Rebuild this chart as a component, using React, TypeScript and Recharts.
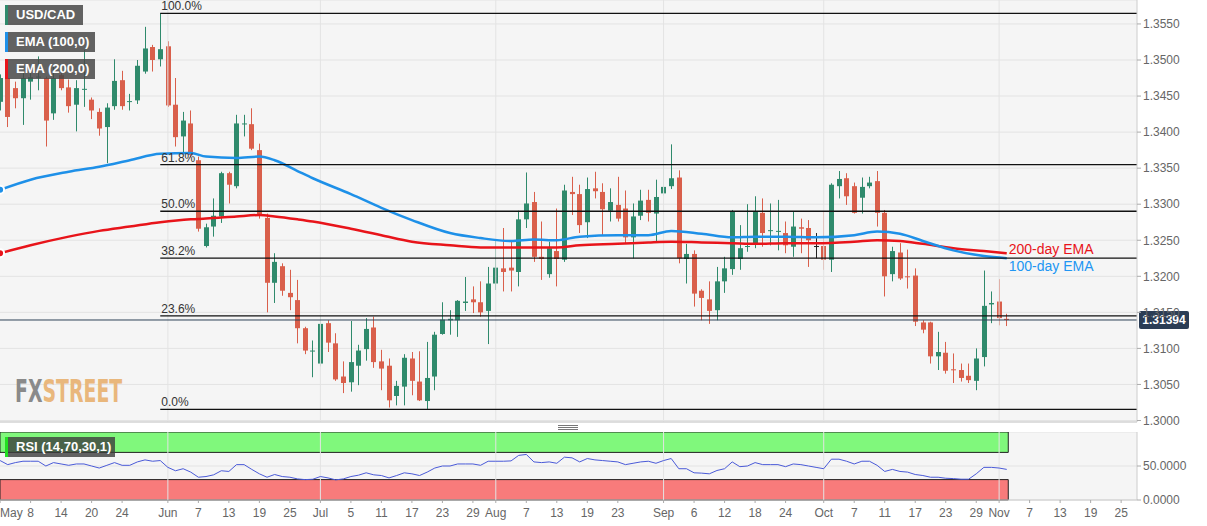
import React from "react";
import {
  ComposedChart,
  Bar,
  Line,
  XAxis,
  YAxis,
  CartesianGrid,
  ReferenceLine,
  ReferenceArea,
  ReferenceDot,
} from "recharts";

// daily USD/CAD candles, bar index 1 = May 2
const firstIndex = 1;

const candleOpen = [
  1.3442, 1.3475, 1.3461, 1.3447, 1.347, 1.3476, 1.3475, 1.3426, 1.3479, 1.3462,
  1.3438, 1.3459, 1.3445, 1.3428, 1.3407, 1.3436, 1.3472, 1.3442, 1.3444, 1.3484,
  1.3518, 1.3501, 1.3519, 1.3438, 1.3394, 1.3412, 1.3361, 1.3242, 1.3269, 1.3283,
  1.3343, 1.3325, 1.3411, 1.3411, 1.3375, 1.3281, 1.3191, 1.3214, 1.3177, 1.3167,
  1.3128, 1.3096, 1.3079, 1.3135, 1.3107, 1.3061, 1.3053, 1.3076, 1.3099, 1.3129,
  1.3082, 1.3076, 1.3034, 1.3047, 1.3086, 1.3054, 1.3027, 1.3061, 1.312, 1.3139,
  1.3139, 1.3163, 1.3168, 1.3164, 1.3152, 1.319, 1.3211, 1.3212, 1.3206, 1.3279,
  1.3303, 1.3227, 1.3203, 1.3235, 1.3223, 1.3317, 1.3314, 1.3275, 1.3322, 1.3317,
  1.3291, 1.3299, 1.3294, 1.3254, 1.3284, 1.3306, 1.3287, 1.3315, 1.3325, 1.3337,
  1.3224, 1.3231, 1.318, 1.3168, 1.3153, 1.3193, 1.321, 1.3224, 1.3241, 1.3245,
  1.3288, 1.3263, 1.3262, 1.326, 1.3241, 1.3268, 1.3267, 1.3242, 1.3242, 1.3223,
  1.3325, 1.3336, 1.3325, 1.3309, 1.3325, 1.3332, 1.3288, 1.3203, 1.3233, 1.32,
  1.3201, 1.3136, 1.3136, 1.3089, 1.3094, 1.3071, 1.307, 1.3062, 1.3055, 1.3088,
  1.3161, 1.3165, 1.3141,
];

const candleHigh = [
  1.348, 1.3478, 1.347, 1.3484, 1.3484, 1.3505, 1.3477, 1.3491, 1.3487, 1.3473,
  1.3472, 1.3514, 1.3448, 1.3433, 1.344, 1.3501, 1.3485, 1.3453, 1.35, 1.3546,
  1.3521, 1.3565, 1.3526, 1.3475, 1.3428, 1.343, 1.3366, 1.3273, 1.3308, 1.3345,
  1.3345, 1.3424, 1.3424, 1.3433, 1.3384, 1.3287, 1.3232, 1.3218, 1.3209, 1.3195,
  1.313, 1.3111, 1.3145, 1.3139, 1.3121, 1.3082, 1.3138, 1.3105, 1.3142, 1.3144,
  1.3098, 1.3086, 1.3055, 1.3092, 1.3095, 1.3096, 1.3109, 1.3123, 1.3164, 1.3153,
  1.3167, 1.3199, 1.3186, 1.3193, 1.3213, 1.3249, 1.3267, 1.3249, 1.3291, 1.3344,
  1.3317, 1.3276, 1.3248, 1.3294, 1.3327, 1.3338, 1.3327, 1.3337, 1.3345, 1.3329,
  1.3322, 1.3338, 1.3319, 1.3301, 1.332, 1.332, 1.3334, 1.3361, 1.3383, 1.3347,
  1.3245, 1.3236, 1.3182, 1.3193, 1.3213, 1.3227, 1.3292, 1.3271, 1.33, 1.3311,
  1.3308, 1.3301, 1.3306, 1.3276, 1.329, 1.328, 1.3278, 1.326, 1.329, 1.3329,
  1.3346, 1.3343, 1.333, 1.3337, 1.3338, 1.3346, 1.3292, 1.3241, 1.3246, 1.3237,
  1.3211, 1.3139, 1.3137, 1.3123, 1.3109, 1.3093, 1.3079, 1.3079, 1.31, 1.3208,
  1.3179, 1.3196, 1.3148,
];

const candleLow = [
  1.343, 1.3407, 1.3433, 1.341, 1.3445, 1.3458, 1.338, 1.3417, 1.3458, 1.3427,
  1.3401, 1.3435, 1.3418, 1.3395, 1.3357, 1.3431, 1.3431, 1.343, 1.3439, 1.3481,
  1.3484, 1.3491, 1.3435, 1.338, 1.3371, 1.3365, 1.3262, 1.324, 1.3255, 1.3274,
  1.3301, 1.3322, 1.3394, 1.3375, 1.328, 1.315, 1.3163, 1.3173, 1.3153, 1.3107,
  1.3092, 1.306, 1.3075, 1.3095, 1.3055, 1.3038, 1.304, 1.3049, 1.3083, 1.3073,
  1.3042, 1.3018, 1.3021, 1.3021, 1.3035, 1.3027, 1.3016, 1.3042, 1.3119, 1.3119,
  1.3116, 1.3152, 1.3149, 1.3144, 1.3106, 1.3181, 1.3179, 1.3179, 1.3186, 1.3267,
  1.322, 1.3195, 1.3198, 1.3186, 1.322, 1.3285, 1.326, 1.3253, 1.3308, 1.3256,
  1.3276, 1.3276, 1.3246, 1.3225, 1.3278, 1.3276, 1.3248, 1.3312, 1.3321, 1.3218,
  1.319, 1.3158, 1.3139, 1.3134, 1.3139, 1.3177, 1.3202, 1.3209, 1.3234, 1.3239,
  1.3241, 1.3243, 1.3236, 1.3232, 1.3227, 1.3232, 1.3213, 1.3225, 1.3209, 1.3206,
  1.3308, 1.3299, 1.3287, 1.3287, 1.3322, 1.3269, 1.3172, 1.3193, 1.3195, 1.3183,
  1.3131, 1.3121, 1.3079, 1.307, 1.3065, 1.3052, 1.3054, 1.3052, 1.3042, 1.3075,
  1.3135, 1.3132, 1.3131,
];

const candleClose = [
  1.3475, 1.3421, 1.3447, 1.3475, 1.3476, 1.3477, 1.3416, 1.3475, 1.3461, 1.3436,
  1.3461, 1.346, 1.343, 1.3405, 1.3434, 1.3471, 1.3436, 1.3443, 1.3492, 1.3516,
  1.35, 1.3515, 1.3437, 1.3393, 1.3416, 1.3368, 1.3266, 1.3268, 1.3284, 1.3343,
  1.3327, 1.3412, 1.3412, 1.3377, 1.3284, 1.3191, 1.322, 1.318, 1.3171, 1.3128,
  1.3097, 1.3097, 1.3134, 1.3108, 1.3057, 1.3052, 1.3081, 1.3097, 1.3127, 1.3081,
  1.3072, 1.3028, 1.3048, 1.3087, 1.3055, 1.3028, 1.3059, 1.3119, 1.314, 1.3141,
  1.3166, 1.3165, 1.3164, 1.315, 1.319, 1.3212, 1.3206, 1.3208, 1.3279, 1.3301,
  1.3227, 1.3224, 1.3239, 1.3224, 1.3319, 1.3314, 1.3271, 1.3321, 1.3318, 1.3293,
  1.3303, 1.328, 1.3254, 1.3283, 1.3305, 1.3288, 1.331, 1.3324, 1.3336, 1.3225,
  1.3231, 1.3176, 1.317, 1.3152, 1.3193, 1.3211, 1.329, 1.3239, 1.3242, 1.329,
  1.326, 1.3264, 1.3263, 1.3243, 1.3269, 1.3266, 1.325, 1.3242, 1.3223, 1.3327,
  1.3335, 1.3311, 1.3288, 1.3324, 1.333, 1.3288, 1.32, 1.3235, 1.3197, 1.3199,
  1.3137, 1.3126, 1.3089, 1.3095, 1.3069, 1.307, 1.3059, 1.3056, 1.3086, 1.3159,
  1.3163, 1.3142, 1.31394,
];

// moving averages at a few bars
const emaIndex = [
  1, 5, 10, 14, 18, 22, 26, 28, 32, 35, 37, 40, 42, 47, 51, 55, 60, 64, 68,
  71, 74, 77, 82, 86, 89, 93, 97, 100, 104, 108, 113, 116, 119, 122, 126, 130, 133,
];
const ema100 = [
  1.332, 1.3334, 1.3345, 1.3352, 1.3361, 1.337, 1.3371, 1.3366, 1.3364, 1.3366,
  1.3361, 1.3346, 1.3336, 1.3314, 1.3295, 1.3278, 1.326, 1.3253, 1.3249, 1.3251,
  1.325, 1.3255, 1.3257, 1.3257, 1.3263, 1.3259, 1.3254, 1.3255, 1.3255, 1.3254,
  1.3257, 1.3262, 1.3259, 1.3249, 1.3236, 1.3228, 1.3225,
];
const ema200 = [
  1.3232, 1.3243, 1.3255, 1.3263, 1.3269, 1.3275, 1.3279, 1.328, 1.3283, 1.3285,
  1.3283, 1.3279, 1.3276, 1.3266, 1.3257, 1.3248, 1.3243, 1.324, 1.324, 1.324,
  1.324, 1.3243, 1.3245, 1.3247, 1.3248, 1.3247, 1.3246, 1.3245, 1.3246, 1.3246,
  1.3248, 1.325, 1.3249, 1.3245, 1.3239, 1.3235, 1.3232,
];

const rsiValues = [
  58, 52, 55, 57, 57, 57, 50, 55, 53, 51, 53, 53, 50, 47, 51, 55, 51, 51, 56, 59,
  57, 58, 48, 43, 46, 41, 33.5, 34.5, 37, 43, 42, 52, 52, 45, 38.5, 33.5, 37.5, 34.5, 33.5, 31,
  30, 30.5, 34.5, 32.5, 29.6, 31, 34.5, 36.5, 40, 37, 36, 32.5, 36, 40, 38.5, 36, 41, 47, 50, 50,
  53, 53, 53, 51, 57, 57, 57, 57.5, 65.6, 67, 56, 55, 56, 54, 63, 62, 56, 61, 59, 58,
  57, 56, 52, 54, 56, 57, 54, 58, 61, 46, 46, 40, 39.5, 38.5, 43.4, 46, 56, 49, 50, 55,
  52, 52, 52, 49, 53, 52, 50, 48, 46, 60, 60, 57, 53, 57, 57, 51, 42, 45, 42, 41,
  37.5, 36, 33.5, 33.5, 32, 31.5, 30.6, 30.6, 38.5, 48, 48, 47, 45,
];

const fibStartIndex = 22;
const fibLevels = [1.35648, 1.3355, 1.32902, 1.32253, 1.31451, 1.30155];
const fibLabels = ["100.0%", "61.8%", "50.0%", "38.2%", "23.6%", "0.0%"];
const lastPrice = 1.31394;

const priceTicks = [
  1.3, 1.305, 1.31, 1.315, 1.32, 1.325, 1.33, 1.335, 1.34, 1.345, 1.35, 1.355,
];
const monthIndex = [23, 43, 66, 88, 109, 132];
const tickIndex = [
  1, 5, 9, 13, 17, 23, 27, 31, 35, 39, 43, 47, 51, 55, 59, 63, 66, 70, 74, 78,
  82, 88, 92, 96, 100, 104, 109, 113, 117, 121, 125, 129, 132, 136, 140, 144, 148,
];
const tickLabels = [
  "May", "8", "14", "20", "24", "Jun", "7", "13", "19", "25", "Jul", "5", "11",
  "17", "23", "29", "Aug", "7", "13", "19", "23", "Sep", "6", "12", "18", "24",
  "Oct", "7", "11", "17", "23", "29", "Nov", "7", "13", "19", "25",
];

// layout
const W = 1207;
const AXIS_W = 70;
const X_DOMAIN = [0.987, 150.08];
const PRICE_DOMAIN = [1.299792, 1.358322];
const RSI_BAND_END = 133.2;
const FONT = "'Liberation Sans', Arial, Helvetica, sans-serif";
const GREEN = "#2f8a6c";
const RED = "#d95f4b";
const BG = "#f5f5f5";
const GRID = "#e3e3e3";

type Row = {
  i: number;
  open: number;
  high: number;
  low: number;
  close: number;
  rsi: number;
  ema100?: number;
  ema200?: number;
};

const rows: Row[] = candleOpen.map((o, k) => ({
  i: firstIndex + k,
  open: o,
  high: candleHigh[k],
  low: candleLow[k],
  close: candleClose[k],
  rsi: rsiValues[k],
}));
emaIndex.forEach((idx, k) => {
  const r = rows[idx - firstIndex];
  r.ema100 = ema100[k];
  r.ema200 = ema200[k];
});

function Candle(props: any) {
  const { x, y, width, height, payload } = props;
  if (!payload || x == null || y == null) return null;
  const { open, close, high, low } = payload as Row;
  const top = Math.min(y, y + height);
  const h = Math.abs(height);
  const k = high > low ? h / (high - low) : 0;
  const yOpen = top + (high - open) * k;
  const yClose = top + (high - close) * k;
  const color = close > open ? GREEN : close < open ? RED : "#222";
  const cx = Math.round(x + width / 2) + 0.5;
  const bodyTop = Math.min(yOpen, yClose);
  const bodyH = Math.max(1, Math.abs(yOpen - yClose));
  return (
    <g>
      <line x1={cx} x2={cx} y1={top} y2={top + h} stroke={color} strokeWidth={1} />
      <rect x={cx - 2.5} y={bodyTop} width={5} height={bodyH} fill={color} />
    </g>
  );
}

function FibText(props: any) {
  const vb = props.viewBox || {};
  return (
    <text x={vb.x + 1} y={vb.y - 3} fontSize={12} fill="#333" fontFamily={FONT}>
      {props.text}
    </text>
  );
}

function PriceTag(props: any) {
  const vb = props.viewBox || {};
  const left = vb.x + vb.width + 2;
  return (
    <g>
      <rect x={left} y={vb.y - 9} width={50} height={18} rx={2} fill="#2b3d55" />
      <text
        x={left + 25}
        y={vb.y + 4.5}
        textAnchor="middle"
        fontSize={12}
        fontWeight="bold"
        fill="#fff"
        fontFamily={FONT}
      >
        {props.text}
      </text>
    </g>
  );
}

function EmaText(props: any) {
  const vb = props.viewBox || {};
  return (
    <text
      x={vb.x + 2}
      y={vb.y + props.dy}
      fontSize={14}
      fill={props.color}
      fontFamily={FONT}
    >
      {props.text}
    </text>
  );
}

function DateTick(props: any) {
  const { x, y, payload, index } = props;
  const k = tickIndex.indexOf(payload.value);
  return (
    <text
      x={x}
      y={y + 12}
      textAnchor={index === 0 ? "start" : "middle"}
      fontSize={12}
      fill="#666"
      fontFamily={FONT}
    >
      {tickLabels[k]}
    </text>
  );
}

function Badge({ top, width, stripe, label }: any) {
  return (
    <div
      style={{
        position: "absolute",
        left: 5,
        top,
        width,
        height: 20,
        background: "rgba(72,72,72,0.85)",
        borderLeft: `3px solid ${stripe}`,
        boxSizing: "border-box",
        color: "#fff",
        fontFamily: FONT,
        fontWeight: "bold",
        fontSize: 13,
        lineHeight: "20px",
        paddingLeft: 8,
        whiteSpace: "nowrap",
      }}
    >
      {label}
    </div>
  );
}

const last = rows[rows.length - 1];
const lastEma100 = ema100[ema100.length - 1];
const lastEma200 = ema200[ema200.length - 1];

export default function App() {
  return (
    <div
      style={{
        position: "absolute",
        left: 0,
        top: 0,
        width: W,
        height: 526,
        background: "#fff",
        overflow: "hidden",
        fontFamily: FONT,
      }}
    >
      <div style={{ position: "absolute", left: 0, top: 0 }}>
        <ComposedChart
          width={W}
          height={431}
          data={rows}
          margin={{ top: 0, right: 0, left: 0, bottom: 8 }}
        >
          <CartesianGrid vertical={false} fill={BG} stroke={GRID} />
          <XAxis
            type="number"
            dataKey="i"
            domain={X_DOMAIN}
            allowDataOverflow
            ticks={monthIndex}
            tick={false}
            tickLine={false}
            height={1}
            axisLine={{ stroke: "#ccc" }}
          />
          <YAxis
            orientation="right"
            width={AXIS_W}
            domain={PRICE_DOMAIN}
            allowDataOverflow
            ticks={priceTicks}
            interval={0}
            tickFormatter={(v: number) => v.toFixed(4)}
            tick={{ fontSize: 12, fill: "#666", fontFamily: FONT }}
            tickSize={4}
            tickLine={{ stroke: "#aaa" }}
            axisLine={{ stroke: "#ccc" }}
          />
          {monthIndex.map((m) => (
            <ReferenceLine key={"m" + m} x={m} stroke={GRID} strokeWidth={1} />
          ))}
          <Line
            type="monotone"
            dataKey="ema200"
            stroke="#e8141a"
            strokeWidth={2.5}
            dot={false}
            connectNulls
            isAnimationActive={false}
          />
          <Line
            type="monotone"
            dataKey="ema100"
            stroke="#1e90e8"
            strokeWidth={2.5}
            dot={false}
            connectNulls
            isAnimationActive={false}
          />
          <Bar
            dataKey={(d: Row) => [d.low, d.high]}
            barSize={5}
            shape={<Candle />}
            isAnimationActive={false}
          />
          {fibLevels.map((lv, k) => (
            <ReferenceLine
              key={"f" + k}
              segment={[
                { x: fibStartIndex, y: lv },
                { x: X_DOMAIN[1], y: lv },
              ]}
              stroke="#111"
              strokeWidth={1.3}
              label={<FibText text={fibLabels[k]} />}
            />
          ))}
          <ReferenceLine
            y={lastPrice}
            stroke="#2f4258"
            strokeWidth={1}
            label={<PriceTag text={lastPrice.toFixed(5)} />}
          />
          <ReferenceDot
            x={last.i}
            y={lastEma200}
            r={0}
            fill="none"
            stroke="none"
            label={<EmaText text="200-day EMA" color="#e8141a" dy={1} />}
          />
          <ReferenceDot
            x={last.i}
            y={lastEma100}
            r={0}
            fill="none"
            stroke="none"
            label={<EmaText text="100-day EMA" color="#2196f3" dy={13} />}
          />
        </ComposedChart>
      </div>

      <Badge top={5} width={78} stripe="#2f8a6c" label="USD/CAD" />
      <Badge top={32} width={90} stripe="#1e90e8" label="EMA (100,0)" />
      <Badge top={59} width={90} stripe="#e8141a" label="EMA (200,0)" />

      <svg
        style={{ position: "absolute", left: 14, top: 370 }}
        width={130}
        height={42}
      >
        <text
          x={1}
          y={21.5}
          fontSize={21}
          fontWeight="bold"
          fontFamily="'DejaVu Sans Condensed', 'Liberation Sans', sans-serif"
          transform="scale(1,1.5)"
        >
          <tspan fill="#8a8a8a">FX</tspan>
          <tspan fill="#e9b77c">STREET</tspan>
        </text>
      </svg>

      {[0, 2, 4].map((d) => (
        <div
          key={d}
          style={{
            position: "absolute",
            left: 558,
            top: 425 + d,
            width: 20,
            height: 1,
            background: "#777",
          }}
        />
      ))}

      <div style={{ position: "absolute", left: 0, top: 432 }}>
        <ComposedChart
          width={W}
          height={94}
          data={rows}
          margin={{ top: 0, right: 0, left: 0, bottom: 0 }}
        >
          <CartesianGrid vertical={false} fill={BG} stroke={GRID} />
          <XAxis
            type="number"
            dataKey="i"
            domain={X_DOMAIN}
            allowDataOverflow
            ticks={tickIndex}
            interval={0}
            tick={<DateTick />}
            tickSize={3}
            height={26}
            tickLine={{ stroke: "#aaa" }}
            axisLine={{ stroke: "#ccc" }}
          />
          <YAxis
            orientation="right"
            width={AXIS_W}
            domain={[0, 100]}
            ticks={[0, 50]}
            interval={0}
            tickFormatter={(v: number) => v.toFixed(4)}
            tick={{ fontSize: 12, fill: "#666", fontFamily: FONT }}
            tickSize={4}
            tickLine={{ stroke: "#aaa" }}
            axisLine={{ stroke: "#ccc" }}
          />
          <ReferenceArea
            x1={X_DOMAIN[0]}
            x2={RSI_BAND_END}
            y1={70}
            y2={100}
            fill="#80f87c"
            fillOpacity={1}
            stroke="#222"
            strokeWidth={1}
          />
          <ReferenceArea
            x1={X_DOMAIN[0]}
            x2={RSI_BAND_END}
            y1={0}
            y2={30}
            fill="#f87b7b"
            fillOpacity={1}
            stroke="#222"
            strokeWidth={1}
          />
          {monthIndex.map((m) => (
            <ReferenceLine key={"r" + m} x={m} stroke={GRID} strokeWidth={1} />
          ))}
          <Line
            type="linear"
            dataKey="rsi"
            stroke="#4a5ad8"
            strokeWidth={1}
            dot={false}
            isAnimationActive={false}
          />
        </ComposedChart>
      </div>

      <div
        style={{
          position: "absolute",
          left: 5,
          top: 437,
          width: 110,
          height: 20,
          background: "rgba(60,60,60,0.8)",
          borderLeft: "3px solid #22e022",
          boxSizing: "border-box",
          color: "#fff",
          fontFamily: FONT,
          fontWeight: "bold",
          fontSize: 13,
          lineHeight: "20px",
          paddingLeft: 8,
          whiteSpace: "nowrap",
        }}
      >
        RSI (14,70,30,1)
      </div>
    </div>
  );
}
